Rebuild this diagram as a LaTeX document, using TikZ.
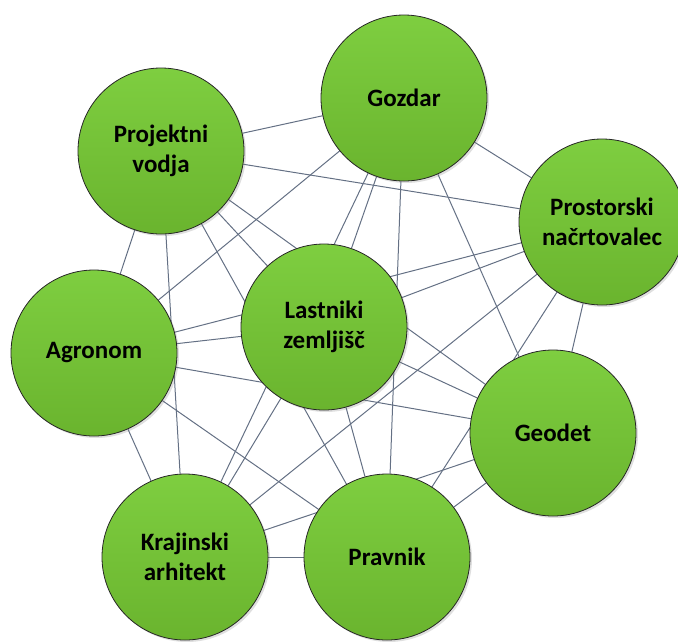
\documentclass[tikz,border=0pt]{standalone}
\usepackage{fontspec}
\setmainfont{Carlito}
\usetikzlibrary{shadows,backgrounds}
\definecolor{topgreen}{RGB}{126,206,64}
\definecolor{botgreen}{RGB}{106,180,46}
\definecolor{linkgray}{RGB}{100,112,132}
\tikzset{
    lab/.style={
        font=\fontsize{25}{30}\selectfont\bfseries
    }
}

\begin{document}
\begin{tikzpicture}[x=1pt,y=-1pt, line cap=round, line join=round]

\tikzset{
  role/.style={circle, draw=black!85, line width=0.8pt, top color=topgreen, bottom color=botgreen,
    minimum size=166pt, inner sep=0pt, align=center, lab,
    drop shadow={opacity=0.25, shadow xshift=2pt, shadow yshift=-2pt}},
  link/.style={draw=linkgray, line width=1pt}
}

\useasboundingbox (0,0) rectangle (678,641);

\node[role] (gozdar) at (404,98) {Gozdar};
\node[role] (vodja) at (161,151) {Projektni\\vodja};
\node[role] (prostor) at (602,222) {Prostorski\\načrtovalec};
\node[role] (lastniki) at (324,327) {Lastniki\\zemljišč};
\node[role] (agronom) at (94,353) {Agronom};
\node[role] (geodet) at (553,433) {Geodet};
\node[role] (krajinski) at (185,557) {Krajinski\\arhitekt};
\node[role] (pravnik) at (387,557) {Pravnik};

\begin{scope}[on background layer]
\draw[link] (gozdar) -- (vodja);
\draw[link] (gozdar) -- (prostor);
\draw[link] (gozdar) -- (lastniki);
\draw[link] (gozdar) -- (agronom);
\draw[link] (gozdar) -- (geodet);
\draw[link] (gozdar) -- (krajinski);
\draw[link] (gozdar) -- (pravnik);
\draw[link] (vodja) -- (prostor);
\draw[link] (vodja) -- (lastniki);
\draw[link] (vodja) -- (agronom);
\draw[link] (vodja) -- (geodet);
\draw[link] (vodja) -- (krajinski);
\draw[link] (vodja) -- (pravnik);
\draw[link] (prostor) -- (lastniki);
\draw[link] (prostor) -- (agronom);
\draw[link] (prostor) -- (geodet);
\draw[link] (prostor) -- (krajinski);
\draw[link] (prostor) -- (pravnik);
\draw[link] (lastniki) -- (agronom);
\draw[link] (lastniki) -- (geodet);
\draw[link] (lastniki) -- (krajinski);
\draw[link] (lastniki) -- (pravnik);
\draw[link] (agronom) -- (geodet);
\draw[link] (agronom) -- (krajinski);
\draw[link] (agronom) -- (pravnik);
\draw[link] (geodet) -- (krajinski);
\draw[link] (geodet) -- (pravnik);
\draw[link] (krajinski) -- (pravnik);
\end{scope}

\end{tikzpicture}
\end{document}
